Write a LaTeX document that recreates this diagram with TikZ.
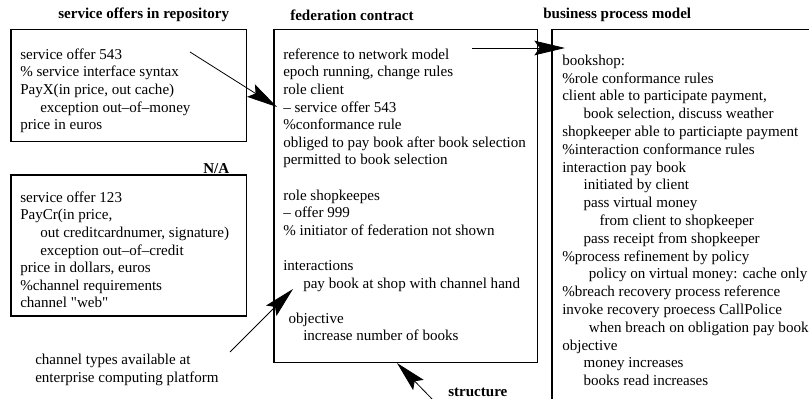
\documentclass[tikz,border=0pt]{standalone}
\usepackage{fontspec}
\setmainfont{Liberation Serif}
\usetikzlibrary{arrows.meta}
\begin{document}
\begin{tikzpicture}[x=0.75pt,y=-0.75pt,
  box/.style={draw,line width=0.8pt},
  txt/.style={anchor=north west,inner sep=0pt,align=left,font=\fontsize{11.3}{13.2}\selectfont},
  ttl/.style={anchor=west,inner sep=0pt,font=\fontsize{11.3}{13.2}\selectfont\bfseries},
  arr/.style={line width=0.6pt,-{Stealth[length=23pt,width=11pt,inset=4pt]}}]
\useasboundingbox (0,0) rectangle (809,399);
\clip (0,0) rectangle (809,399);
% boxes
\path[box] (11,29.5) rectangle (246.5,141.5);
\path[box] (11,175) rectangle (246.5,316);
\path[box] (274,29.5) rectangle (537.5,362.5);
\draw[line width=0.8pt] (815,29.5) -- (552,29.5) -- (552,405);
% titles
\node[ttl] (t1) at (58,15) {service offers in repository};
\node[ttl] (t2) at (290,15) {federation contract};
\node[ttl] (t3) at (543,15) {business process model};
\node[ttl] (na) at (203,169) {N/A};
\node[ttl] (st) at (448,392) {structure};
% texts
\node[txt] (offerA) at (20,48.5) {service offer 543\\
\% service interface syntax\\
PayX(in price, out cache)\\
\hspace*{15pt}exception out–of–money\\
price in euros};
\node[txt] (offerB) at (20,191.5) {service offer 123\\
PayCr(in price,\\
\hspace*{15pt}out creditcardnumer, signature)\\
\hspace*{15pt}exception out–of–credit\\
price in dollars, euros\\
\%channel requirements\\
channel {\addfontfeatures{Ligatures=TeXOff}"web"}};
\node[txt] (fed) at (283,48.5) {reference to network model\\
epoch running, change rules\\
role client\\
– service offer 543\\
\%conformance rule\\
obliged to pay book after book selection\\
permitted to book selection\\[13.2pt]
role shopkeepes\\
– offer 999\\
\% initiator of federation not shown\\[13.2pt]
interactions\\
\hspace*{15pt}pay book at shop with channel hand\\[13.2pt]
\hspace*{4pt}objective\\
\hspace*{15pt}increase number of books};
\node[txt,font=\fontsize{11.3}{13.35}\selectfont] (bpm) at (562,54.5) {bookshop:\\
\%role conformance rules\\
client able to participate payment,\\
\hspace*{16pt}book selection, discuss weather\\
shopkeeper able to particiapte payment\\
\%interaction conformance rules\\
interaction pay book\\
\hspace*{16pt}initiated by client\\
\hspace*{16pt}pass virtual money\\
\hspace*{28pt}from client to shopkeeper\\
\hspace*{16pt}pass receipt from shopkeeper\\
\%process refinement by policy\\
\hspace*{20pt}policy on virtual money: cache only\\
\%breach recovery process reference\\
invoke recovery proecess CallPolice\\
\hspace*{20pt}when breach on obligation pay book\\
objective\\
\hspace*{16pt}money increases\\
\hspace*{16pt}books read increases};
\node[txt] (chan) at (35,354) {channel types available at\\
enterprise computing platform};
% arrows
\coordinate (a1s) at (190,52);
\coordinate (a1e) at (277,107);
\coordinate (a2s) at (472,48);
\coordinate (a2e) at (565,48);
\coordinate (a3s) at (230,352);
\coordinate (a3e) at (293,289);
\coordinate (a4s) at (433,400);
\coordinate (a4e) at (397,363);
\draw[arr] (a1s) -- (a1e);
\draw[arr] (a2s) -- (a2e);
\draw[arr] (a3s) -- (a3e);
\draw[arr] (a4s) -- (a4e);
\end{tikzpicture}
\end{document}
